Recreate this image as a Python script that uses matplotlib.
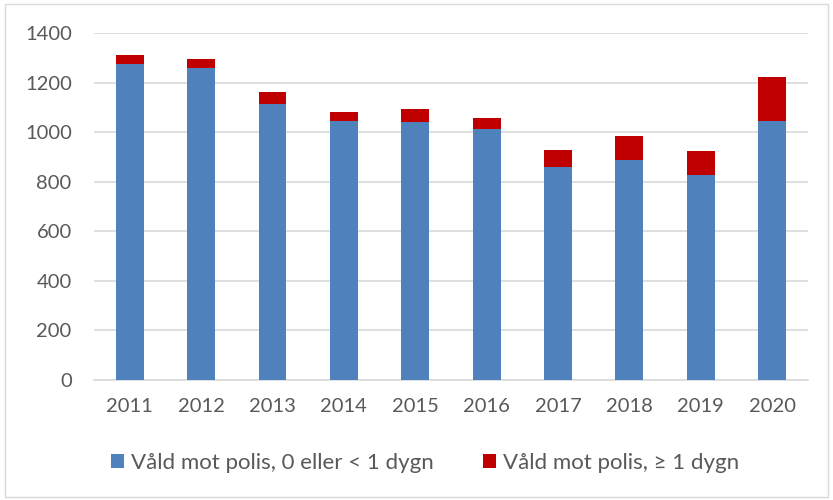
import matplotlib.pyplot as plt
import numpy as np
from matplotlib.patches import Rectangle

plt.rcParams['font.family'] = ['Lato', 'DejaVu Sans']

years = ['2011', '2012', '2013', '2014', '2015', '2016', '2017', '2018', '2019', '2020']
under_1_dygn = [1276, 1259, 1115, 1045, 1042, 1011, 859, 886, 827, 1045]
over_1_dygn = [35, 37, 48, 36, 50, 45, 68, 97, 97, 177]

blue = '#4f81bd'
red = '#c00000'
grey_text = '#595959'

fig = plt.figure(figsize=(8.33, 5), dpi=100)
fig.patches.append(Rectangle((0.006, 0.006), 0.988, 0.986, transform=fig.transFigure,
                             fill=False, edgecolor='#d9d9d9', linewidth=1))
ax = fig.add_axes([0.1128, 0.24, 0.857, 0.694])

x = np.arange(len(years))
w = 0.39
ax.bar(x, under_1_dygn, width=w, color=blue, label='Våld mot polis, 0 eller < 1 dygn', zorder=3)
ax.bar(x, over_1_dygn, width=w, bottom=under_1_dygn, color=red,
       label='Våld mot polis, ≥ 1 dygn', zorder=3)

ax.set_xlim(-0.5, len(years) - 0.5)
ax.set_ylim(0, 1400)
ax.set_yticks(range(0, 1401, 200))
ax.set_xticks(x)
ax.set_xticklabels(years)
ax.yaxis.grid(True, color='#d9d9d9', linewidth=1.2, zorder=0)
for s in ['top', 'right', 'left']:
    ax.spines[s].set_visible(False)
ax.spines['bottom'].set_color('#d9d9d9')
ax.spines['bottom'].set_linewidth(1.2)
ax.tick_params(length=0, labelsize=14.5, colors=grey_text)
ax.tick_params(axis='y', pad=16)
ax.tick_params(axis='x', pad=13)

leg = fig.legend(loc='center', bbox_to_anchor=(0.51, 0.074), ncol=2, frameon=False,
                 fontsize=16, handlelength=0.6, handleheight=0.6, handletextpad=0.3,
                 columnspacing=2.2)
for t in leg.get_texts():
    t.set_color(grey_text)

plt.savefig('out.png', dpi=100)
